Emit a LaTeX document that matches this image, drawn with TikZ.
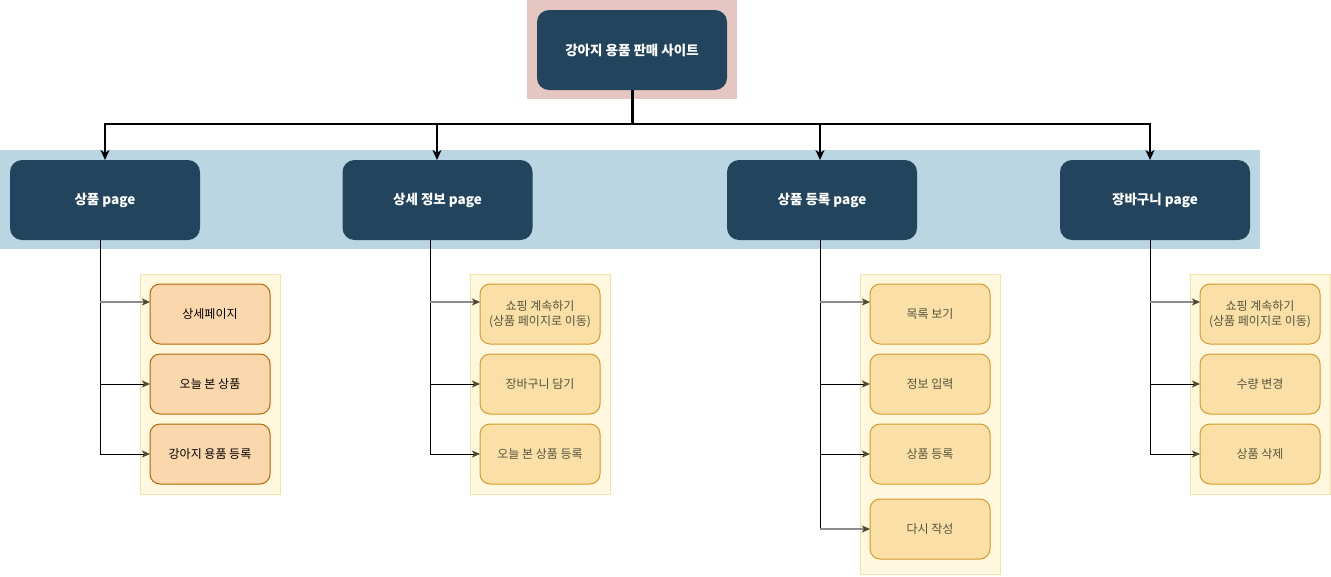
\documentclass[tikz,border=0pt]{standalone}
\usepackage{fontspec}
\setmainfont{Noto Sans CJK KR}
\usetikzlibrary{arrows.meta}
\definecolor{navy}{HTML}{23445D}
\definecolor{pinkbg}{HTML}{E6C6C1}
\definecolor{bandbg}{HTML}{B9D6E2}
\definecolor{contfill}{HTML}{FFF8DE}
\definecolor{contdraw}{HTML}{F3E4AE}
\definecolor{orfill}{HTML}{FAD7AC}
\definecolor{ordraw}{HTML}{B46504}
\definecolor{yefill}{HTML}{FADFA6}
\definecolor{yedraw}{HTML}{D69A2C}
\definecolor{yetext}{HTML}{55553F}
\definecolor{headc}{HTML}{4A4A33}
\newcommand{\pgtxt}[1]{\raisebox{-2pt}{#1}}
\tikzset{
  pagebox/.style={rectangle, rounded corners=12pt, fill=navy, draw=none,
    minimum width=190pt, minimum height=80pt, inner sep=0pt, outer sep=0pt,
    text=white, font=\fontsize{13.5}{16}\selectfont\bfseries},
  childo/.style={rectangle, rounded corners=10pt, fill=orfill, draw=ordraw, line width=1pt,
    minimum width=120pt, minimum height=60pt, inner sep=0pt, outer sep=0pt,
    align=center, font=\fontsize{12}{14.5}\selectfont, text=black},
  childy/.style={childo, fill=yefill, draw=yedraw, text=yetext},
  cont/.style={fill=contfill, draw=contdraw, line width=1pt},
  mainarrow/.style={draw=black, line width=2pt, -{Stealth[length=10pt,width=9pt,inset=3pt]}},
  subarrow/.style={draw=black, line width=1pt, -{Stealth[length=8pt,width=7pt,inset=2pt,color=headc,fill=headc]}},
  subarrowg/.style={subarrow, draw=gray!90, line width=2pt}
}
\begin{document}
\begin{tikzpicture}[x=1pt,y=-1pt]
\useasboundingbox (0,0) rectangle (1331,576);
% backgrounds
\fill[pinkbg] (527,0) rectangle (737,99);
\fill[bandbg] (0,150) rectangle (1260,249);
\filldraw[cont] (140,274) rectangle (280,494);
\filldraw[cont] (470,274) rectangle (610,494);
\filldraw[cont] (860,274) rectangle (1000,574);
\filldraw[cont] (1190,274) rectangle (1330,494);
% root and pages
\node[pagebox] (root) at (632,50) {\pgtxt{강아지 용품 판매 사이트}};
\node[pagebox] (p1) at (105,200) {\pgtxt{상품 page}};
\node[pagebox] (p2) at (437.5,200) {\pgtxt{상세 정보 page}};
\node[pagebox] (p3) at (822,200) {\pgtxt{상품 등록 page}};
\node[pagebox] (p4) at (1155,200) {\pgtxt{장바구니 page}};
% children
\node[childo] (c11) at (210,314) {상세페이지};
\node[childo] (c12) at (210,384) {오늘 본 상품};
\node[childo] (c13) at (210,454) {강아지 용품 등록};
\node[childy] (c21) at (540,314) {쇼핑 계속하기\\(상품 페이지로 이동)};
\node[childy] (c22) at (540,384) {장바구니 담기};
\node[childy] (c23) at (540,454) {오늘 본 상품 등록};
\node[childy] (c31) at (930,314) {목록 보기};
\node[childy] (c32) at (930,384) {정보 입력};
\node[childy] (c33) at (930,454) {상품 등록};
\node[childy] (c34) at (930,529) {다시 작성};
\node[childy] (c41) at (1260,314) {쇼핑 계속하기\\(상품 페이지로 이동)};
\node[childy] (c42) at (1260,384) {수량 변경};
\node[childy] (c43) at (1260,454) {상품 삭제};
% main connectors
\draw[line width=3pt] (root.south) -- ++(0,34) coordinate (hub);
\draw[mainarrow] (hub) -| (p1.north);
\draw[mainarrow] (hub) -| ([xshift=-0.5pt]p2.north);
\draw[mainarrow] (hub) -| ([xshift=-2pt]p3.north);
\draw[mainarrow] (hub) -| ([xshift=-5pt]p4.north);
% sub connectors
\coordinate (s1) at ([xshift=-5pt]p1.south);
\coordinate (s2) at ([xshift=-7.5pt]p2.south);
\coordinate (s3) at ([xshift=-2pt]p3.south);
\coordinate (s4) at ([xshift=-5pt]p4.south);
\coordinate (a11) at ([yshift=12pt]c11.west);
\coordinate (a21) at ([yshift=12pt]c21.west);
\coordinate (a31) at ([yshift=12pt]c31.west);
\coordinate (a41) at ([yshift=12pt]c41.west);
\draw[line width=1pt] (s1) -- (s1 |- c13.west);
\draw[line width=1pt] (s2) -- (s2 |- c23.west);
\draw[line width=1pt] (s3) -- (s3 |- c34.west);
\draw[line width=1pt] (s4) -- (s4 |- c43.west);
\draw[subarrowg] (s1 |- a11) -- (a11);
\draw[subarrow] (s1 |- c12.west) -- (c12.west);
\draw[subarrow] (s1 |- c13.west) -- (c13.west);
\draw[subarrowg] (s2 |- a21) -- (a21);
\draw[subarrow] (s2 |- c22.west) -- (c22.west);
\draw[subarrow] (s2 |- c23.west) -- (c23.west);
\draw[subarrowg] (s3 |- a31) -- (a31);
\draw[subarrow] (s3 |- c32.west) -- (c32.west);
\draw[subarrow] (s3 |- c33.west) -- (c33.west);
\draw[subarrowg] (s3 |- c34.west) -- (c34.west);
\draw[subarrowg] (s4 |- a41) -- (a41);
\draw[subarrow] (s4 |- c42.west) -- (c42.west);
\draw[subarrow] (s4 |- c43.west) -- (c43.west);
\end{tikzpicture}
\end{document}
